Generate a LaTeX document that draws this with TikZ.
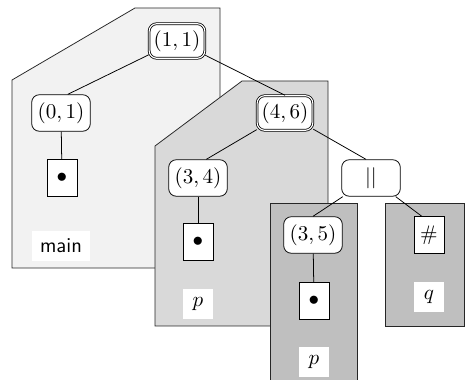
\documentclass[tikz,border=0pt]{standalone}
\usepackage{amssymb}
\tikzset{
  term/.style={draw, fill=white, rounded corners=4pt, minimum width=30.5pt, minimum height=19pt, inner sep=1pt},
  branch/.style={term, double, double distance=0.6pt, minimum width=29pt, minimum height=18pt},
  leaf/.style={draw, fill=white, minimum width=15.5pt, minimum height=19pt, inner sep=0pt},
  tag/.style={fill=white, minimum width=15.5pt, minimum height=15.5pt, inner sep=1pt},
  region/.style={draw=black!85}
}
\begin{document}
\begin{tikzpicture}[x=0.52pt,y=-0.52pt,font=\fontsize{11}{13}\selectfont]
  \useasboundingbox (0,0) rectangle (465,380);
  % thread regions
  \fill[gray!10, region] (12,80) -- (135,8) -- (220,8) -- (220,268) -- (12,268) -- cycle;
  \fill[gray!30, region] (155,146) -- (242,81) -- (328,81) -- (328,326) -- (155,326) -- cycle;
  \fill[gray!50, region] (270,203) rectangle (357,384);
  \fill[gray!50, region] (385,203) rectangle (464.5,326);

  % nodes
  \node[branch] (p11) at (177,41) {$(1,1)$};
  \node[term] (p01) at (61,113) {$(0,1)$};
  \node[leaf] (b01) at (62,178) {$\bullet$};
  \node[tag, minimum width=30.5pt] (lmain) at (61,246) {\textsf{main}};

  \node[branch] (p46) at (285,113) {$(4,6)$};
  \node[term] (p34) at (198,178) {$(3,4)$};
  \node[leaf] (b34) at (198,242) {$\bullet$};
  \node[tag] (lp1) at (198,304) {$p$};

  \node[term] (par) at (371,178) {$||$};
  \node[term] (p35) at (313,235) {$(3,5)$};
  \node[leaf] (b35) at (314,301) {$\bullet$};
  \node[tag] (lp2) at (314,362) {$p$};

  \node[leaf] (hash) at (429,235) {$\#$};
  \node[tag] (lq) at (429,297) {$q$};

  % edges
  \draw (p11) -- (p01.70);
  \draw (p11) -- (p46.north);
  \draw (p46) -- (p34.66);
  \draw (p46) -- (par.105);
  \draw (par) -- (p35.north);
  \draw (par) -- (hash.111);
  \draw (p01) -- (b01);
  \draw (p34) -- (b34);
  \draw (p35) -- (b35);
\end{tikzpicture}
\end{document}
